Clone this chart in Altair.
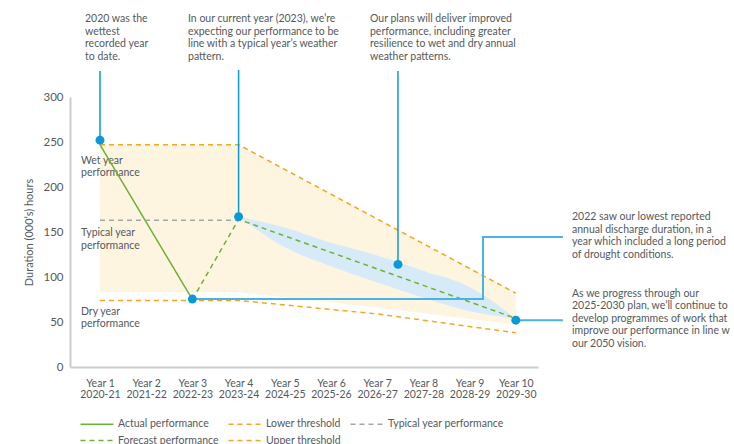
import json
import altair as alt
import pandas as pd

FONT = "Lato"
TEXT = "#54595d"
BLUE = "#0a98d8"
LINK = "#4cb2e2"

# ---------------- data ----------------
year_ticks = [1, 2, 3, 4, 5, 6, 7, 8, 9, 10]
period_labels = ["2020-21", "2021-22", "2022-23", "2023-24", "2024-25",
                 "2025-26", "2026-27", "2027-28", "2028-29", "2029-30"]

series_names = ["Actual performance", "Lower threshold", "Typical year performance",
                "Forecast performance", "Upper threshold"]
series_colors = ["#6cb234", "#f5a623", "#a3a7ab", "#6cb234", "#f5a623"]
series_dash = [[1, 0], [5, 4], [5, 4], [5, 4], [5, 4]]

actual_x = [1, 3]
actual_y = [247, 75]
forecast_x = [3, 4, 10]
forecast_y = [75, 164, 54]
typical_x = [1, 4]
typical_y = [163, 163]
upper_x = [1, 4, 10]
upper_y = [247, 247, 82]
lower_x = [1, 4, 7, 10]
lower_y = [74, 74, 59, 38]

band_x = [1, 4, 7, 10]
band_hi = [247, 247, 164.5, 82]
band_lo = [83, 83, 66, 47]

blue_x = [4, 5, 6, 7, 8, 9, 10]
blue_hi = [167, 155, 138, 124, 107, 89, 54]
blue_lo = [167, 133, 112, 94, 77, 62, 54]

dot_x = [1, 3, 4, 7.45, 10]
dot_y = [252, 75.5, 167, 114, 52]

stem_x = [1, 4, 7.45]
stem_top = [329, 330, 329]
stem_bottom = [252, 167, 114]

link_id = ["a", "a", "a", "a", "b", "b"]
link_order = [0, 1, 2, 3, 0, 1]
link_x = [3, 9.29, 9.29, 11.02, 10, 11.02]
link_y = [75.5, 75.5, 144.4, 144.4, 52, 52]

note_x = [0.676, 2.905, 6.844, 11.217, 11.217]
note_y = [392, 392, 392, 172, 87]
note_text = [
    "2020 was the\nwettest\nrecorded year\nto date.",
    "In our current year (2023), we\u2019re\nexpecting our performance to be\nline with a typical year\u2019s weather\npattern.",
    "Our plans will deliver improved\nperformance, including greater\nresilience to wet and dry annual\nweather patterns.",
    "2022 saw our lowest reported\nannual discharge duration, in a\nyear which included a long period\nof drought conditions.",
    "As we progress through our\n2025-2030 plan, we\u2019ll continue to\ndevelop programmes of work that\nimprove our performance in line w\nour 2050 vision.",
]

zone_x = [0.589, 0.589, 0.589]
zone_y = [235, 154.4, 66.7]
zone_text = ["Wet year\nperformance", "Typical year\nperformance", "Dry year\nperformance"]

# ---------------- tables ----------------
rows = []
for name, xs, ys in [("Actual performance", actual_x, actual_y),
                     ("Forecast performance", forecast_x, forecast_y),
                     ("Typical year performance", typical_x, typical_y),
                     ("Upper threshold", upper_x, upper_y),
                     ("Lower threshold", lower_x, lower_y)]:
    for xv, yv in zip(xs, ys):
        rows.append({"series": name, "x": xv, "y": yv})
lines_df = pd.DataFrame(rows)
band_df = pd.DataFrame({"x": band_x, "lo": band_lo, "hi": band_hi})
blue_df = pd.DataFrame({"x": blue_x, "lo": blue_lo, "hi": blue_hi})
dot_df = pd.DataFrame({"x": dot_x, "y": dot_y})
stem_df = pd.DataFrame({"x": stem_x, "top": stem_top, "bottom": stem_bottom})
link_df = pd.DataFrame({"id": link_id, "o": link_order, "x": link_x, "y": link_y})
note_df = pd.DataFrame({"x": note_x, "y": note_y, "t": note_text})
zone_df = pd.DataFrame({"x": zone_x, "y": zone_y, "t": zone_text})

# ---------------- encodings ----------------
label_expr = "['Year ' + datum.value, " + json.dumps(period_labels) + "[datum.value - 1]]"
xscale = alt.Scale(domain=[0.351, 10.481], nice=False, zero=False)
xaxis = alt.Axis(values=year_ticks, labelExpr=label_expr, title=None, ticks=False,
                 grid=False, labelPadding=11, labelFontSize=10.5, labelLineHeight=11.5,
                 labelFont=FONT, labelColor=TEXT, domainColor="#c9cdd1", domainWidth=2)
yscale = alt.Scale(domain=[0, 300], nice=False)
yaxis = alt.Axis(values=[0, 50, 100, 150, 200, 250, 300], title="Duration (000\u2019s) hours",
                 ticks=False, grid=False, labelPadding=7, labelFontSize=11.5, labelFont=FONT,
                 labelColor=TEXT, titleFont=FONT, titleFontSize=11, titleFontWeight="normal",
                 titleColor=TEXT, titlePadding=8, domainColor="#c9cdd1", domainWidth=2)


def X(field="x"):
    return alt.X(f"{field}:Q", scale=xscale, axis=xaxis)


def Y(field="y"):
    return alt.Y(f"{field}:Q", scale=yscale, axis=yaxis)


legend = alt.Legend(title=None, orient="none", legendX=18, legendY=318, direction="horizontal",
                    columns=3, symbolType="M-2,0H2", symbolSize=272, symbolStrokeWidth=1.5,
                    labelFont=FONT, labelFontSize=10.5, labelColor=TEXT, columnPadding=6,
                    rowPadding=1.5, labelOffset=12, padding=0)

band = alt.Chart(band_df).mark_area(color="#fef5e1", opacity=1).encode(
    x=X(), y=Y("lo"), y2="hi:Q")
blue_band = alt.Chart(blue_df).mark_area(color="#d6eaf8", opacity=1, interpolate="monotone").encode(
    x=X(), y=Y("lo"), y2="hi:Q")

lines = alt.Chart(lines_df).mark_line(strokeWidth=1.5).encode(
    x=X(), y=Y(),
    color=alt.Color("series:N", scale=alt.Scale(domain=series_names, range=series_colors), legend=legend),
    strokeDash=alt.StrokeDash("series:N", scale=alt.Scale(domain=series_names, range=series_dash), legend=legend),
    detail="series:N",
)

links = alt.Chart(link_df).mark_line(color=LINK, strokeWidth=2).encode(
    x=X(), y=Y(), detail="id:N", order="o:Q")

stems = alt.Chart(stem_df).mark_rule(color=BLUE, strokeWidth=1.5).encode(
    x=X(), y=Y("top"), y2="bottom:Q")

dots = alt.Chart(dot_df).mark_circle(color=BLUE, size=80, opacity=1).encode(x=X(), y=Y())

notes = alt.Chart(note_df).mark_text(align="left", baseline="top", lineBreak="\n", lineHeight=12.6,
                                     font=FONT, fontSize=10.5, color=TEXT).encode(
    x=X(), y=Y(), text="t:N")

zones = alt.Chart(zone_df).mark_text(align="left", baseline="top", lineBreak="\n", lineHeight=12.5,
                                     font=FONT, fontSize=10.5, color=TEXT).encode(
    x=X(), y=Y(), text="t:N")

chart = alt.layer(band, blue_band, zones, lines, links, stems, dots, notes).properties(
    width=468, height=270,
    autosize=alt.AutoSizeParams(type="none"),
    padding={"left": 70, "top": 97, "right": 196, "bottom": 77},
    background="white",
).configure_view(stroke=None)

chart.save("out.html", embed_options={"renderer": "svg", "actions": False})
